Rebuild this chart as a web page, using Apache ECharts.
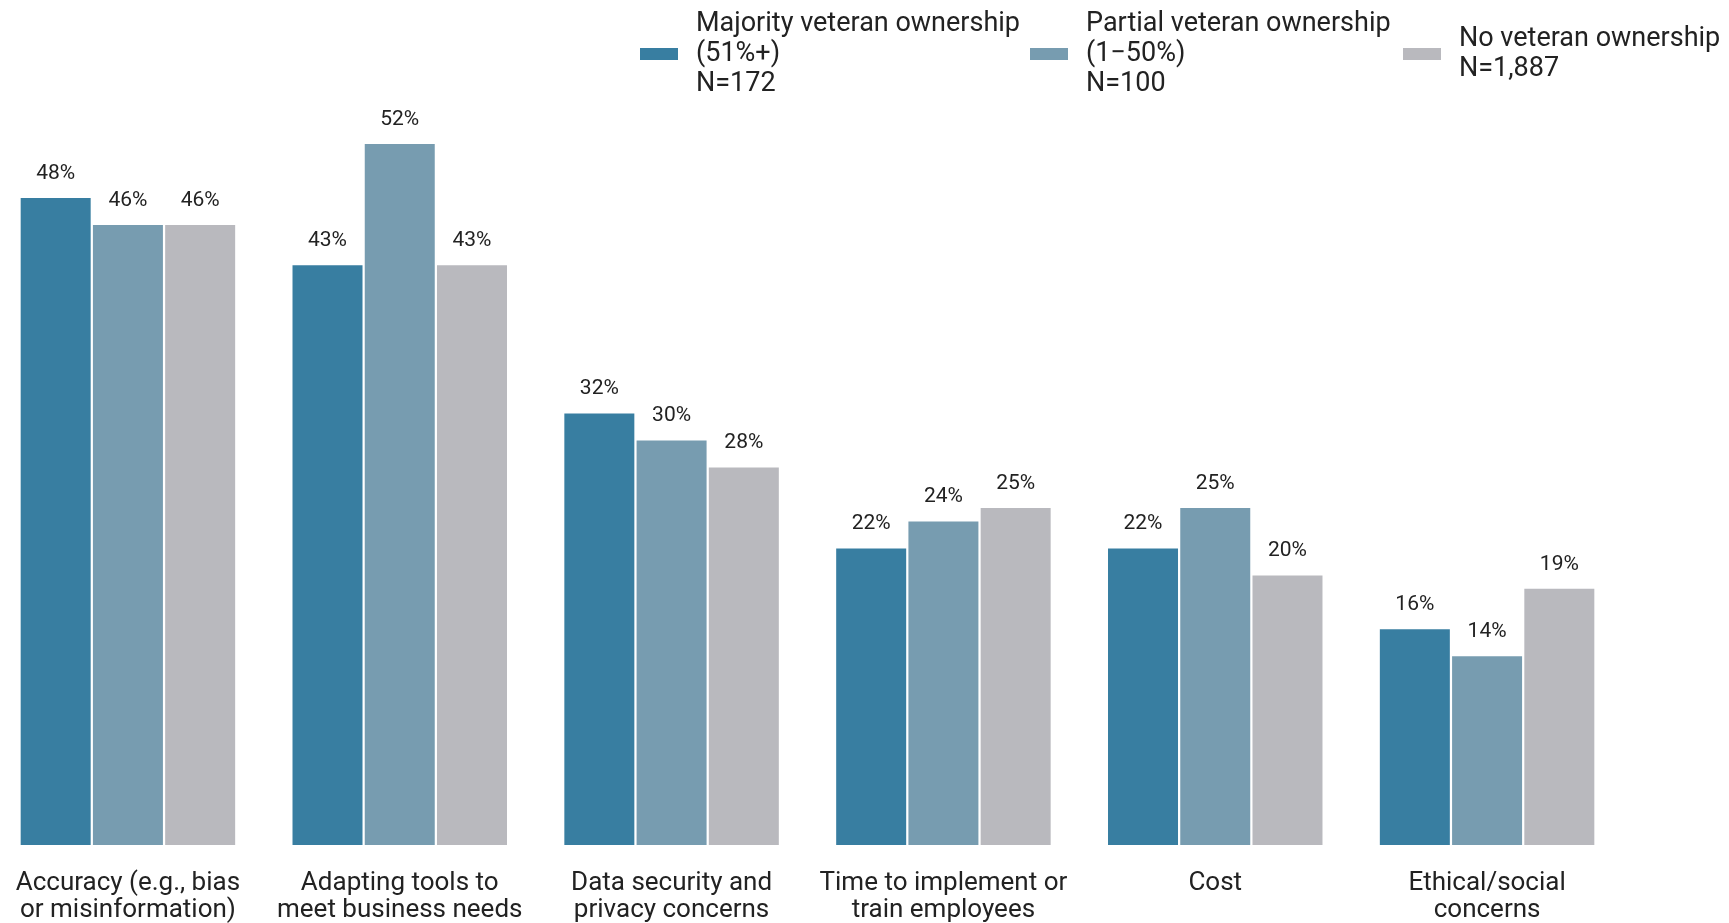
<!DOCTYPE html>
<html>
<head>
<meta charset="utf-8">
<style>
  html, body { margin: 0; padding: 0; background: #fff; }
  #chart { width: 1729px; height: 923px; }
</style>
<script src="https://cdn.jsdelivr.net/npm/echarts@6/dist/echarts.min.js"></script>
</head>
<body>
<div id="chart"></div>
<script>
const categories = [
  'Accuracy (e.g., bias\nor misinformation)',
  'Adapting tools to\nmeet business needs',
  'Data security and\nprivacy concerns',
  'Time to implement or\ntrain employees',
  'Cost',
  'Ethical/social\nconcerns'
]
const seriesNames = [
  'Majority veteran ownership\n(51%+)\nN=172',
  'Partial veteran ownership\n(1\u221250%)\nN=100',
  'No veteran ownership\nN=1,887'
]
const majority = [48, 43, 32, 22, 22, 16]
const partial = [46, 52, 30, 24, 25, 14]
const noVeteran = [46, 43, 28, 25, 20, 19]

const colors = ['#387ea1', '#779cb0', '#b9b9be']
const font = 'Roboto, sans-serif'

const chart = echarts.init(document.getElementById('chart'))

// one legend per series so each can sit where the reference has it
const legendLefts = [635, 1025, 1398]
const legend = seriesNames.map((name, i) => ({
  data: [name],
  left: legendLefts[i],
  top: i === 2 ? 19 : 4,
  itemWidth: 38,
  itemHeight: 12,
  icon: 'rect',
  selectedMode: false,
  textStyle: {
    fontFamily: font,
    fontSize: 27,
    lineHeight: 30,
    color: '#222',
    padding: [0, 0, 0, 13]
  }
}))

const option = {
  animation: false,
  color: colors,
  legend: legend,
  grid: {
    left: -8,
    right: 106,
    top: 144,
    bottom: 78,
    containLabel: false,
    outerBoundsMode: 'none'
  },
  xAxis: {
    type: 'category',
    data: categories,
    axisLine: { show: false },
    axisTick: { show: false },
    axisLabel: {
      interval: 0,
      margin: 25,
      fontFamily: font,
      fontSize: 26,
      lineHeight: 27,
      color: '#222'
    }
  },
  yAxis: {
    type: 'value',
    min: 0,
    max: 52,
    show: false,
    splitLine: { show: false }
  },
  series: [majority, partial, noVeteran].map((data, i) => ({
    name: seriesNames[i],
    type: 'bar',
    data: data,
    barWidth: 70,
    barGap: '3.2%',
    label: {
      show: true,
      position: 'top',
      distance: 14,
      formatter: '{c}%',
      fontFamily: font,
      fontSize: 21,
      color: '#222'
    }
  }))
}

chart.setOption(option)
</script>
</body>
</html>
